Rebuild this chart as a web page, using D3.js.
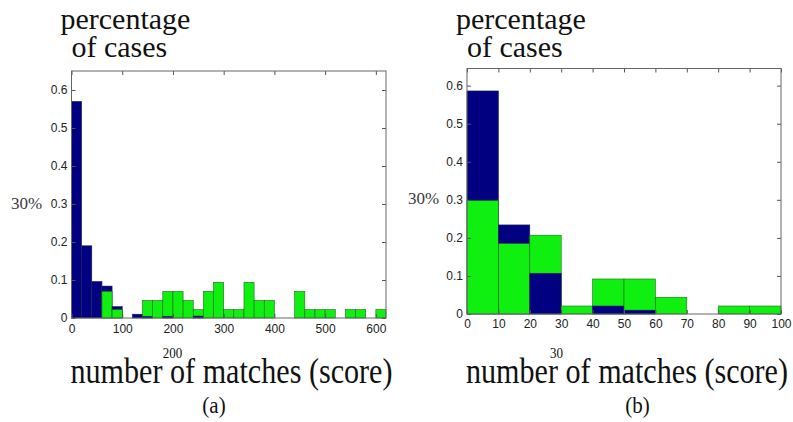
<!DOCTYPE html>
<html>
<head>
<meta charset="utf-8">
<script src="https://cdn.jsdelivr.net/npm/d3@7"></script>
<style>
  body { margin: 0; background: #fff; }
  svg { display: block; }
  .tick text { font-family: "Liberation Sans", Arial, sans-serif; font-size: 12px; fill: #222; }
  .serif { font-family: "Liberation Serif", "Times New Roman", serif; fill: #111; }
</style>
</head>
<body>
<svg id="chart" width="793" height="422"></svg>
<script>
// panel (a): 31 bins of 20 from 0 to 620
const binA = 20;
const blueA = [0.57, 0.19, 0.096, 0.084, 0.03, 0, 0.01, 0.004, 0, 0.004, 0, 0, 0.005, 0, 0, 0,
               0, 0, 0, 0, 0, 0, 0, 0, 0, 0, 0, 0, 0, 0, 0];
const greenA = [0, 0, 0, 0.07, 0.022, 0, 0, 0.046, 0.046, 0.07, 0.07, 0.046, 0.022, 0.07, 0.094, 0.022,
                0.022, 0.094, 0.046, 0.046, 0, 0, 0.07, 0.022, 0.022, 0.022, 0, 0.022, 0.022, 0, 0.022];
const xTicksA = [0, 100, 200, 300, 400, 500, 600];

// panel (b): 10 bins of 10 from 0 to 100
const binB = 10;
const blueB = [0.586, 0.234, 0.107, 0, 0.021, 0.01, 0, 0, 0, 0];
const greenB = [0.298, 0.185, 0.207, 0.021, 0.092, 0.092, 0.044, 0, 0.021, 0.021];
const xTicksB = [0, 10, 20, 30, 40, 50, 60, 70, 80, 90, 100];

const yTicks = [0, 0.1, 0.2, 0.3, 0.4, 0.5, 0.6];

const BLUE = "#000080";
const GREEN = "#10f010";

const svg = d3.select("#chart");

function panel(opt) {
  const x = d3.scaleLinear().domain(opt.xDomain).range([opt.left, opt.right]);
  const y = d3.scaleLinear().domain([0, opt.yMax]).range([opt.bottom, opt.top]);
  const g = svg.append("g");

  // overlay bars: taller one first, shorter drawn on top
  const rects = [];
  opt.blue.forEach((b, i) => {
    const gr = opt.green[i];
    const pair = [{v: b, c: BLUE, i: i}, {v: gr, c: GREEN, i: i}]
      .filter(d => d.v > 0)
      .sort((p, q) => q.v - p.v);
    rects.push(...pair);
  });

  g.append("g").selectAll("rect")
    .data(rects)
    .join("rect")
    .attr("x", d => x(d.i * opt.bin))
    .attr("width", d => x((d.i + 1) * opt.bin) - x(d.i * opt.bin))
    .attr("y", d => y(d.v))
    .attr("height", d => y(0) - y(d.v))
    .attr("fill", d => d.c)
    .attr("stroke", d => d.c === GREEN ? "#1d6a1d" : "#202050")
    .attr("stroke-width", 0.6);

  const fmtY = d => d === 0 ? "0" : d3.format(".1f")(d);

  g.append("g")
    .attr("transform", `translate(0,${opt.bottom})`)
    .call(d3.axisBottom(x).tickValues(opt.xTicks).tickSize(-4).tickSizeOuter(0).tickPadding(opt.xPad))
    .call(a => a.select(".domain").remove());
  g.append("g")
    .attr("transform", `translate(0,${opt.top})`)
    .call(d3.axisTop(x).tickValues(opt.xTicks).tickSize(-4).tickSizeOuter(0).tickFormat(""))
    .call(a => a.select(".domain").remove());
  g.append("g")
    .attr("transform", `translate(${opt.left},0)`)
    .call(d3.axisLeft(y).tickValues(yTicks).tickSize(-4).tickSizeOuter(0).tickPadding(4).tickFormat(fmtY))
    .call(a => a.select(".domain").remove());
  g.append("g")
    .attr("transform", `translate(${opt.right},0)`)
    .call(d3.axisRight(y).tickValues(yTicks).tickSize(-4).tickSizeOuter(0).tickFormat(""))
    .call(a => a.select(".domain").remove());

  g.selectAll(".tick line").attr("stroke", "#555");

  g.append("rect")
    .attr("x", opt.left).attr("y", opt.top)
    .attr("width", opt.right - opt.left).attr("height", opt.bottom - opt.top)
    .attr("fill", "none").attr("stroke", "#666").attr("stroke-width", 1);

  // labels
  g.append("text").attr("class", "serif").attr("x", opt.left - 11).attr("y", 29)
    .attr("font-size", 30).text("percentage");
  g.append("text").attr("class", "serif").attr("x", opt.left).attr("y", 57)
    .attr("font-size", 30).text("of cases");
  g.append("text").attr("class", "serif").attr("x", opt.pctX).attr("y", opt.pctY)
    .attr("font-size", 17).style("fill", "#3a3a3a").text("30%");

  g.append("text").attr("class", "serif")
    .attr("transform", `translate(${opt.left - 1},383) scale(1,1.2)`)
    .attr("font-size", 30)
    .attr("textLength", 322).attr("lengthAdjust", "spacingAndGlyphs")
    .text("number of matches (score)");
  g.append("text").attr("class", "serif")
    .attr("transform", `translate(${opt.strayX},358) scale(1,1.15)`)
    .attr("text-anchor", "middle").attr("font-size", 13).text(opt.stray);
  g.append("text").attr("class", "serif")
    .attr("transform", `translate(${opt.capX},413) scale(1,1.1)`)
    .attr("text-anchor", "middle").attr("font-size", 21).text(opt.caption);
}

panel({
  left: 71.5, right: 386, top: 71, bottom: 318, yMax: 0.65,
  xDomain: [0, 620], bin: binA, blue: blueA, green: greenA, xTicks: xTicksA, xPad: 6,
  pctX: 11, pctY: 209, stray: "200", strayX: 172.5, caption: "(a)", capX: 214
});

panel({
  left: 467, right: 781, top: 68.5, bottom: 314, yMax: 0.645,
  xDomain: [0, 100], bin: binB, blue: blueB, green: greenB, xTicks: xTicksB, xPad: 5,
  pctX: 408, pctY: 204, stray: "30", strayX: 556.5, caption: "(b)", capX: 637.5
});
</script>
</body>
</html>
